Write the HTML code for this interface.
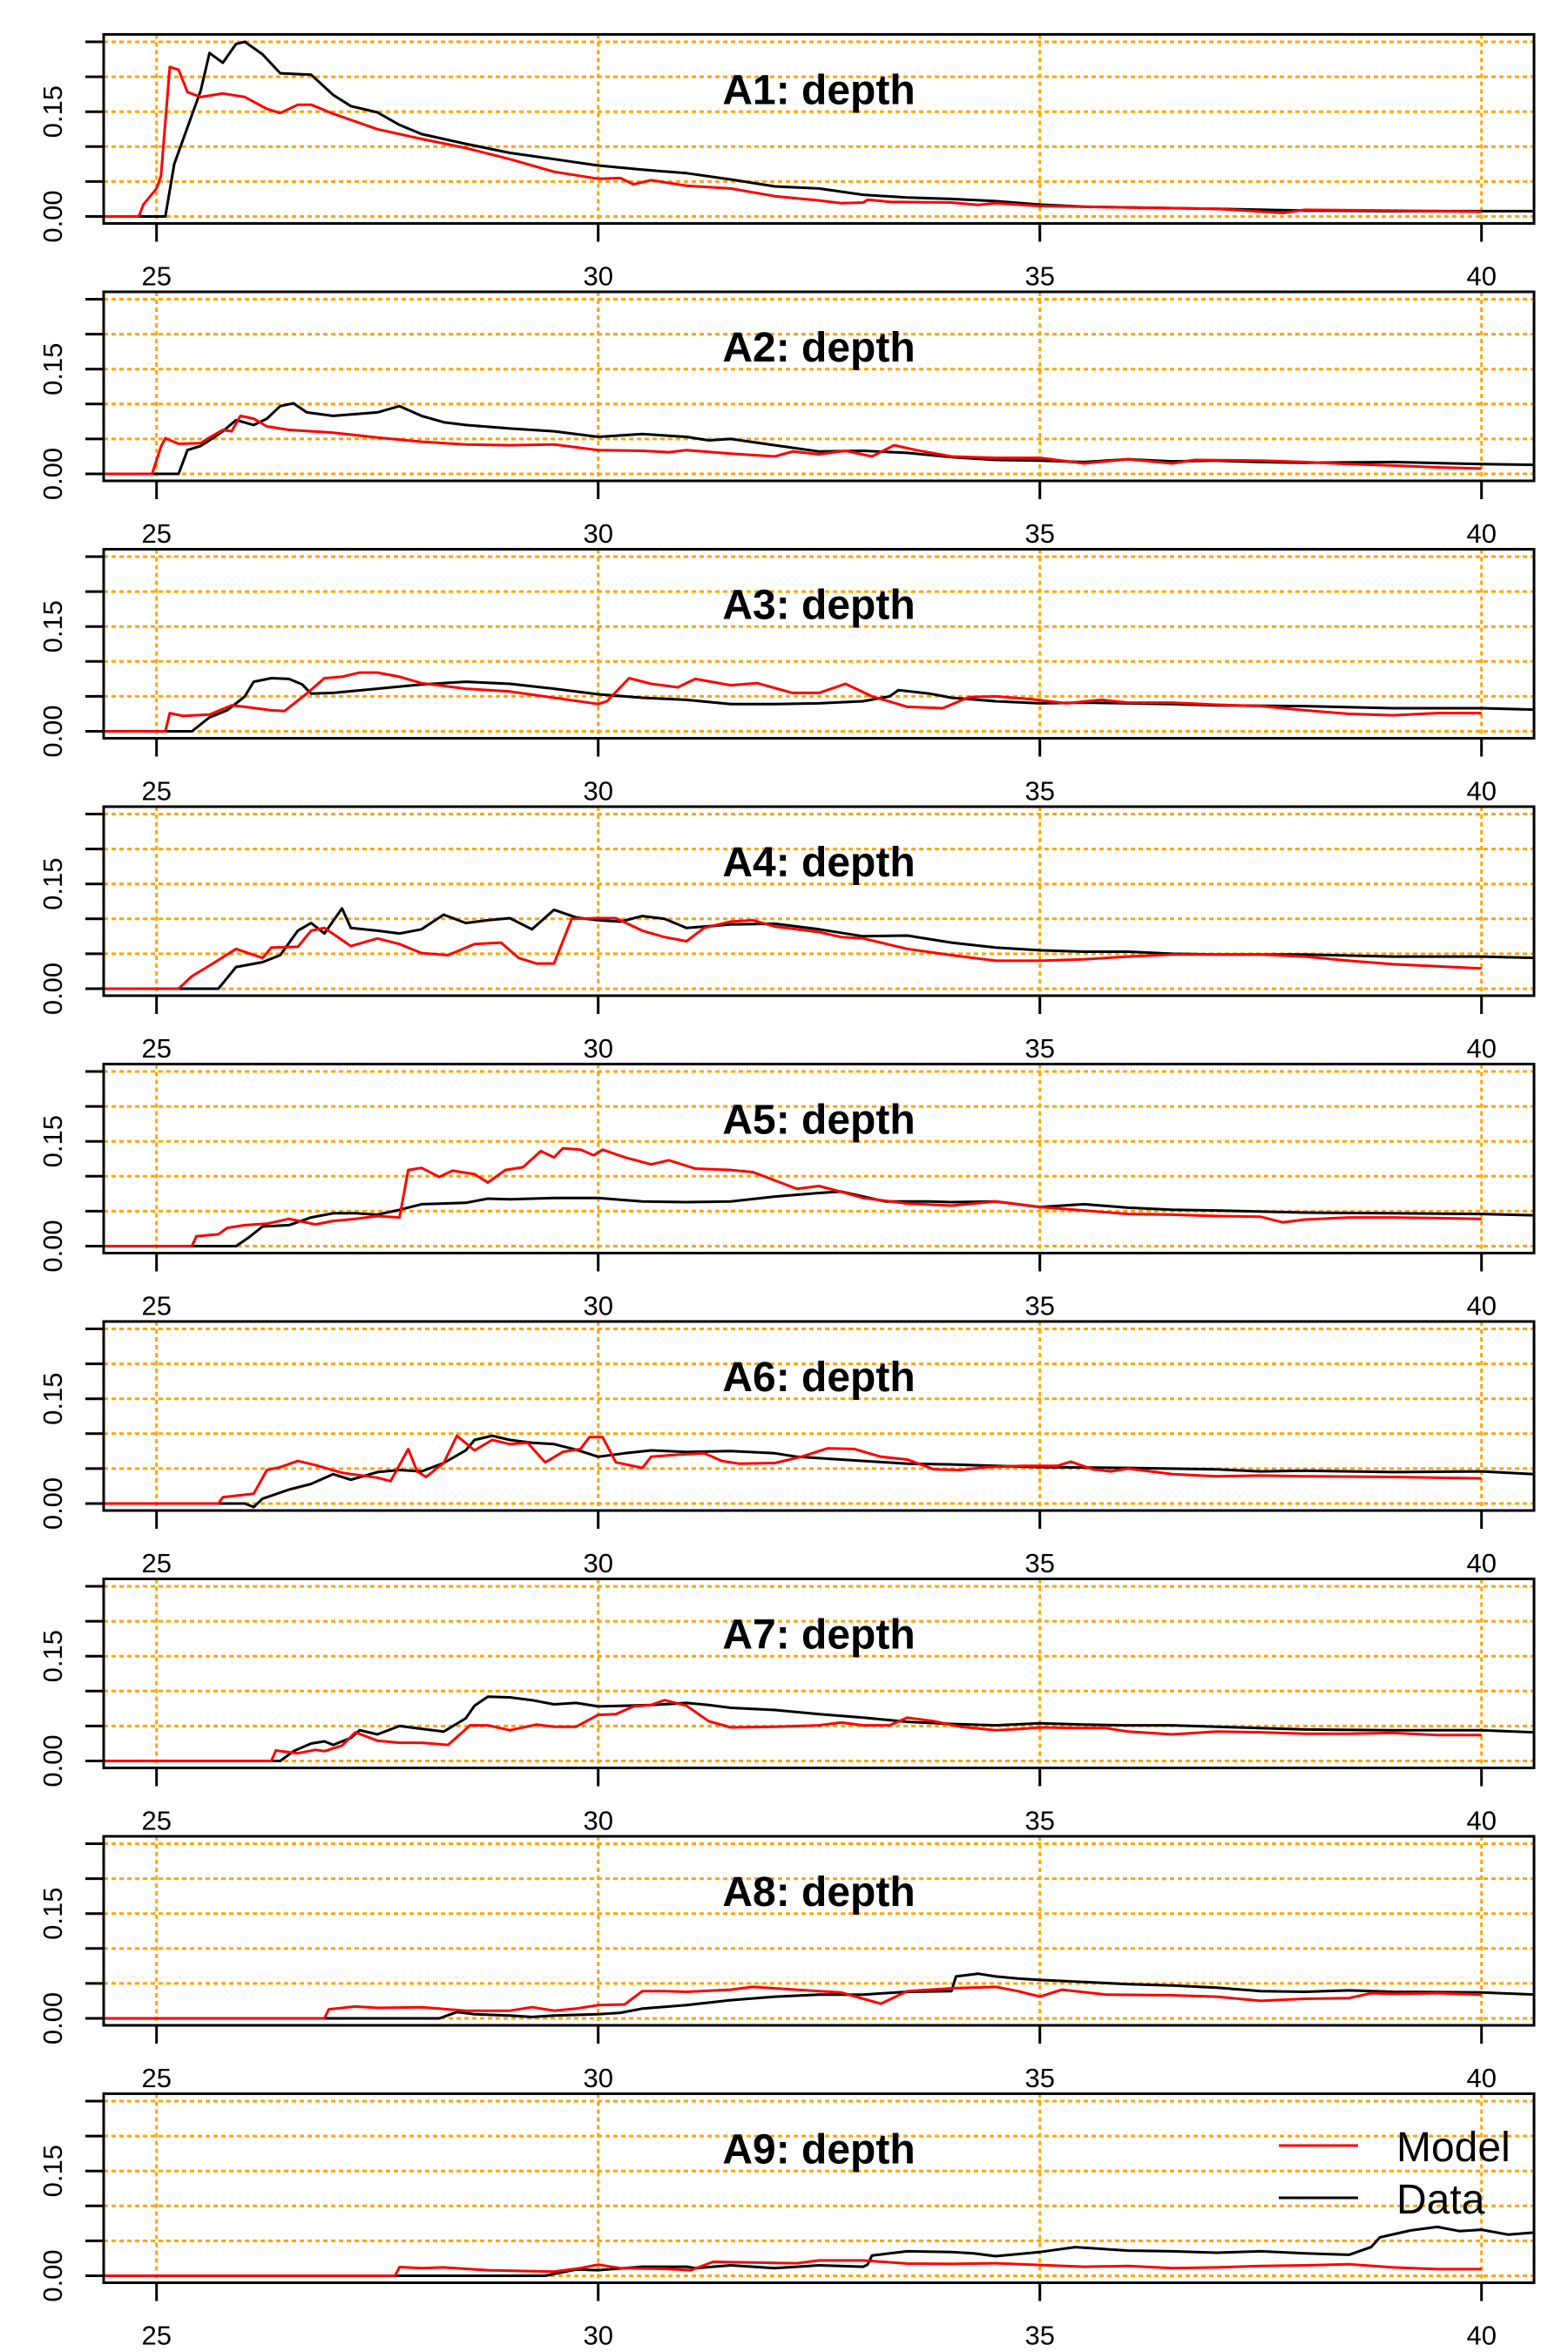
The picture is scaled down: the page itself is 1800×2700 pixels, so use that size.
<!DOCTYPE html>
<html><head><meta charset="utf-8">
<style>
html,body{margin:0;padding:0;background:#fff;}
svg{display:block;font-family:"Liberation Sans",Arial,sans-serif;}
</style></head>
<body>
<svg id="chart" width="1800" height="2700" viewBox="0 0 1800 2700" xmlns="http://www.w3.org/2000/svg"></svg>
<script>
// ---- data ----
const panelTitles = ["A1: depth","A2: depth","A3: depth","A4: depth","A5: depth","A6: depth","A7: depth","A8: depth","A9: depth"];
const xTicks = [25,30,35,40];
const yTicks = [0,0.05,0.10,0.15,0.20,0.25];
const yTickLabels = ["0.00","","","0.15","",""];
const legendLabels = ["Model","Data"];

const a1ModelX = [24.4,24.8,24.85,25.0,25.05,25.15,25.25,25.35,25.5,25.75,26,26.25,26.4,26.6,26.75,27,27.5,28,28.5,29,29.5,30,30.25,30.4,30.6,31,31.5,32,32.5,32.75,33,33.05,33.3,34,34.3,34.5,35,36,37,37.75,38,39,40];
const a1ModelY = [0,0,0.017,0.04,0.058,0.214,0.21,0.178,0.171,0.176,0.171,0.154,0.148,0.16,0.16,0.147,0.125,0.111,0.098,0.082,0.064,0.054,0.055,0.046,0.052,0.044,0.040,0.029,0.023,0.019,0.020,0.024,0.021,0.020,0.0165,0.019,0.015,0.013,0.011,0.005,0.0095,0.0085,0.0067];
const a1DataX = [24.4,25.1,25.2,25.5,25.6,25.75,25.9,26.0,26.2,26.4,26.75,27,27.2,27.5,27.75,28,28.5,29,29.5,30,30.5,31,31.5,32,32.5,33,33.5,34,34.5,35,35.5,36,37,38,39,40,40.6];
const a1DataY = [0,0,0.075,0.18,0.234,0.22,0.247,0.25,0.232,0.205,0.203,0.174,0.158,0.149,0.131,0.118,0.104,0.091,0.082,0.073,0.067,0.062,0.053,0.043,0.040,0.031,0.027,0.025,0.022,0.017,0.014,0.013,0.011,0.0085,0.0076,0.0076,0.0076];

const a2ModelX = [24.4,24.95,25.05,25.1,25.25,25.5,25.6,25.75,25.85,25.95,26.1,26.25,26.5,27,27.5,28,28.5,29,29.5,30,30.5,30.8,31,31.5,32,32.2,32.5,32.8,33.1,33.35,33.6,34,34.5,35,35.5,36,36.5,36.75,37.5,38,38.5,39,39.5,40];
const a2ModelY = [0,0,0.039,0.051,0.043,0.044,0.052,0.063,0.061,0.083,0.079,0.068,0.063,0.059,0.052,0.046,0.042,0.041,0.042,0.034,0.033,0.031,0.034,0.029,0.025,0.032,0.028,0.033,0.025,0.041,0.034,0.025,0.023,0.023,0.015,0.021,0.015,0.020,0.019,0.017,0.014,0.012,0.0094,0.0076];
const a2DataX = [24.4,25.25,25.35,25.5,25.6,25.75,25.9,26.1,26.25,26.4,26.55,26.7,27,27.5,27.75,28,28.25,28.5,29,29.5,30,30.5,31,31.25,31.5,32,32.5,33,33.5,34,34.5,35,35.5,36,36.5,37,37.5,38,39,40,40.6];
const a2DataY = [0,0,0.034,0.040,0.048,0.061,0.077,0.070,0.079,0.097,0.101,0.088,0.083,0.088,0.097,0.083,0.074,0.070,0.065,0.061,0.053,0.057,0.053,0.048,0.050,0.041,0.032,0.033,0.030,0.024,0.020,0.019,0.017,0.021,0.018,0.019,0.017,0.016,0.017,0.014,0.013];

const a3ModelX = [24.4,25.1,25.15,25.3,25.6,25.85,26.0,26.3,26.45,26.7,26.9,27.1,27.3,27.5,27.75,28,28.5,29,29.5,30,30.1,30.35,30.6,30.9,31.1,31.5,31.8,32.2,32.5,32.8,33.1,33.5,33.9,34.2,34.5,34.9,35.3,35.7,36,36.5,37,37.5,38,38.5,39,39.5,40];
const a3ModelY = [0,0,0.026,0.022,0.024,0.037,0.035,0.030,0.029,0.054,0.076,0.078,0.084,0.084,0.078,0.069,0.061,0.057,0.048,0.039,0.043,0.076,0.068,0.063,0.075,0.066,0.069,0.055,0.055,0.068,0.050,0.035,0.033,0.049,0.050,0.046,0.040,0.045,0.041,0.041,0.038,0.036,0.030,0.025,0.023,0.026,0.026];
const a3DataX = [24.4,25.4,25.6,25.8,26,26.1,26.3,26.5,26.65,26.75,27,27.5,28,28.5,29,29.5,30,30.5,31,31.5,32,32.5,33,33.3,33.4,33.75,34,34.5,35,35.5,36,36.5,37,38,39,40,40.6];
const a3DataY = [0,0,0.020,0.030,0.050,0.071,0.076,0.075,0.067,0.054,0.055,0.061,0.067,0.071,0.068,0.061,0.053,0.048,0.045,0.039,0.039,0.040,0.043,0.050,0.059,0.054,0.048,0.043,0.040,0.041,0.040,0.039,0.037,0.036,0.033,0.033,0.031];

const a4ModelX = [24.4,25.25,25.4,25.6,25.9,26.2,26.3,26.6,26.75,26.9,27.2,27.5,27.75,28,28.3,28.6,28.9,29.1,29.3,29.5,29.7,30,30.2,30.5,30.75,31,31.2,31.5,31.75,32,32.5,32.75,33,33.5,34,34.5,35,35.5,36,36.5,37,37.5,38,38.5,39,39.5,40];
const a4ModelY = [0,0,0.018,0.033,0.057,0.044,0.059,0.060,0.083,0.087,0.061,0.072,0.064,0.051,0.048,0.064,0.066,0.044,0.036,0.036,0.100,0.101,0.101,0.083,0.074,0.068,0.087,0.096,0.098,0.089,0.081,0.074,0.072,0.057,0.048,0.040,0.040,0.042,0.046,0.049,0.049,0.049,0.046,0.040,0.035,0.032,0.029];
const a4DataX = [24.4,25.7,25.9,26.2,26.4,26.6,26.75,26.9,27.1,27.2,27.5,27.75,28,28.25,28.5,28.75,29,29.25,29.5,29.75,30,30.25,30.5,30.75,31,31.5,32,32.5,33,33.5,34,34.5,35,35.5,36,36.5,37,38,39,40,40.6];
const a4DataY = [0,0,0.031,0.038,0.048,0.083,0.094,0.079,0.115,0.087,0.083,0.079,0.085,0.106,0.094,0.098,0.101,0.085,0.113,0.102,0.098,0.096,0.104,0.100,0.087,0.092,0.093,0.085,0.075,0.076,0.066,0.059,0.055,0.053,0.053,0.050,0.049,0.049,0.046,0.046,0.044];

const a5ModelX = [24.4,25.4,25.45,25.7,25.8,26.0,26.25,26.5,26.8,27.0,27.25,27.5,27.75,27.85,28.0,28.2,28.35,28.6,28.75,28.95,29.15,29.35,29.5,29.6,29.8,29.95,30.05,30.3,30.6,30.8,31.1,31.5,31.75,32,32.25,32.5,32.8,33,33.5,34,34.5,35,35.5,36,36.5,37,37.5,37.75,38,38.5,39,40];
const a5ModelY = [0,0,0.014,0.017,0.026,0.030,0.032,0.039,0.031,0.036,0.039,0.043,0.041,0.109,0.112,0.099,0.108,0.103,0.091,0.109,0.113,0.136,0.127,0.140,0.138,0.130,0.138,0.127,0.117,0.123,0.111,0.109,0.106,0.094,0.082,0.086,0.076,0.069,0.061,0.058,0.064,0.056,0.051,0.046,0.045,0.043,0.042,0.034,0.038,0.041,0.041,0.039];
const a5DataX = [24.4,25.9,26.05,26.2,26.5,26.75,27,27.25,27.5,27.75,28,28.5,28.75,29,29.5,30,30.5,31,31.5,32,32.5,32.75,33,33.25,33.75,34,34.5,35,35.5,36,36.5,37,38,39,40,40.6];
const a5DataY = [0,0,0.013,0.028,0.030,0.041,0.047,0.047,0.045,0.052,0.060,0.062,0.068,0.067,0.069,0.069,0.064,0.063,0.064,0.071,0.076,0.078,0.071,0.064,0.064,0.063,0.064,0.056,0.060,0.055,0.052,0.051,0.048,0.047,0.046,0.044];

const a6ModelX = [24.4,25.7,25.75,26.1,26.25,26.4,26.6,26.8,27.1,27.5,27.65,27.85,27.95,28.05,28.25,28.4,28.6,28.8,29.0,29.2,29.4,29.6,29.8,29.9,30.05,30.2,30.5,30.6,30.9,31.2,31.4,31.6,32.0,32.3,32.6,32.9,33.2,33.5,33.8,34.1,34.4,34.8,35.2,35.35,35.6,35.8,36,36.5,37,37.5,38,39,40];
const a6ModelY = [0,0,0.009,0.014,0.048,0.052,0.061,0.055,0.044,0.037,0.032,0.078,0.046,0.038,0.058,0.097,0.076,0.091,0.085,0.087,0.059,0.074,0.078,0.095,0.095,0.059,0.051,0.067,0.070,0.072,0.061,0.057,0.058,0.067,0.079,0.078,0.067,0.063,0.049,0.048,0.052,0.054,0.054,0.060,0.049,0.046,0.050,0.042,0.039,0.040,0.039,0.038,0.036];
const a6DataX = [24.4,26.0,26.1,26.2,26.5,26.75,27.0,27.2,27.5,27.75,28.0,28.25,28.5,28.6,28.8,29,29.25,29.5,29.75,30,30.3,30.6,31,31.5,32,32.25,32.5,33,33.5,34,34.5,35,36,37,37.5,38,39,40,40.6];
const a6DataY = [0,0,-0.005,0.007,0.020,0.028,0.042,0.034,0.045,0.048,0.046,0.058,0.076,0.091,0.097,0.091,0.087,0.085,0.077,0.067,0.072,0.076,0.074,0.075,0.072,0.067,0.065,0.061,0.057,0.056,0.054,0.052,0.051,0.049,0.046,0.047,0.045,0.046,0.042];

const a7ModelX = [24.4,26.3,26.35,26.6,26.8,26.9,27.1,27.25,27.5,27.75,28,28.3,28.55,28.75,29,29.3,29.5,29.75,30,30.2,30.4,30.6,30.75,31,31.25,31.5,32,32.5,32.75,33,33.3,33.5,33.8,34.1,34.5,34.8,35,35.5,35.75,36,36.5,37,37.5,38,38.5,39,39.5,40];
const a7ModelY = [0,0,0.015,0.011,0.016,0.014,0.022,0.041,0.029,0.026,0.026,0.023,0.051,0.051,0.044,0.052,0.049,0.049,0.066,0.067,0.078,0.080,0.087,0.079,0.057,0.048,0.049,0.051,0.055,0.051,0.051,0.062,0.057,0.049,0.044,0.046,0.048,0.047,0.047,0.042,0.038,0.042,0.041,0.039,0.039,0.040,0.037,0.037];
const a7DataX = [24.4,26.4,26.55,26.75,26.9,27.0,27.2,27.3,27.5,27.75,28.0,28.25,28.5,28.6,28.75,29.0,29.25,29.5,29.75,30,30.3,30.6,31,31.25,31.5,32,32.5,33,33.5,34,34.5,35,35.5,36,36.5,37,38,39,40,40.6];
const a7DataY = [0,0,0.014,0.025,0.028,0.023,0.033,0.044,0.038,0.050,0.046,0.042,0.061,0.079,0.092,0.091,0.087,0.081,0.083,0.078,0.079,0.080,0.083,0.080,0.076,0.073,0.067,0.062,0.056,0.053,0.051,0.054,0.052,0.051,0.051,0.049,0.045,0.044,0.044,0.041];

const a8ModelX = [24.4,26.9,26.95,27.25,27.5,28,28.5,29,29.25,29.5,29.75,30,30.3,30.5,30.75,31,31.5,31.75,32,32.5,32.75,33,33.2,33.5,34,34.5,34.75,35,35.25,35.75,36.5,37,37.5,38,38.5,38.75,39,39.5,40];
const a8ModelY = [0,0,0.013,0.017,0.015,0.016,0.011,0.011,0.016,0.011,0.014,0.019,0.020,0.039,0.039,0.038,0.041,0.045,0.043,0.039,0.037,0.028,0.021,0.039,0.043,0.045,0.039,0.031,0.041,0.034,0.033,0.031,0.025,0.028,0.029,0.036,0.035,0.036,0.034];
const a8DataX = [24.4,28.2,28.4,28.6,29,29.25,29.5,30,30.25,30.5,31,31.5,32,32.5,33,33.5,34.0,34.05,34.3,34.5,34.75,35,35.5,36,36.5,37,37.5,38,38.5,39,40,40.6];
const a8DataY = [0,0,0.009,0.006,0.004,0.002,0.004,0.006,0.008,0.014,0.019,0.026,0.031,0.034,0.034,0.038,0.039,0.060,0.064,0.060,0.057,0.055,0.052,0.049,0.047,0.044,0.039,0.038,0.040,0.038,0.037,0.034];

const a9ModelX = [24.4,27.7,27.75,28,28.25,28.75,29.5,29.8,30,30.25,30.75,31.05,31.3,31.75,32.25,32.5,33,33.5,34,34.5,35,35.5,36,36.5,37,37.5,38,38.5,39,39.5,40];
const a9ModelY = [0,0,0.0125,0.011,0.012,0.008,0.006,0.011,0.016,0.011,0.010,0.008,0.020,0.019,0.018,0.022,0.022,0.0175,0.017,0.018,0.0155,0.013,0.014,0.011,0.012,0.014,0.015,0.0165,0.012,0.0095,0.0095];
const a9DataX = [24.4,29.4,29.75,30,30.5,31,31.1,31.5,32,32.5,33,33.05,33.1,33.5,34,34.25,34.5,35,35.4,36,36.5,37,37.5,38,38.5,38.75,38.85,39.2,39.5,39.75,40,40.3,40.6];
const a9DataY = [0,0,0.009,0.008,0.013,0.013,0.011,0.015,0.011,0.015,0.013,0.016,0.029,0.035,0.034,0.032,0.028,0.034,0.041,0.036,0.035,0.033,0.035,0.032,0.030,0.041,0.055,0.065,0.070,0.064,0.066,0.059,0.062];

const modelXs = [a1ModelX,a2ModelX,a3ModelX,a4ModelX,a5ModelX,a6ModelX,a7ModelX,a8ModelX,a9ModelX];
const modelYs = [a1ModelY,a2ModelY,a3ModelY,a4ModelY,a5ModelY,a6ModelY,a7ModelY,a8ModelY,a9ModelY];
const dataXs = [a1DataX,a2DataX,a3DataX,a4DataX,a5DataX,a6DataX,a7DataX,a8DataX,a9DataX];
const dataYs = [a1DataY,a2DataY,a3DataY,a4DataY,a5DataY,a6DataY,a7DataY,a8DataY,a9DataY];

// ---- layout ----
const NS = "http://www.w3.org/2000/svg";
const svg = document.getElementById("chart");
const boxL = 119, boxR = 1761, boxH = 217, top0 = 39.5, step = 295.5, zeroOff = 209, pxPer05 = 40.1;
function xPx(x){ return 179.7 + (x - 25) * 101.4; }
function yPx(top, v){ return top + zeroOff - v / 0.05 * pxPer05; }
function mk(tag, attrs, parent){
  const e = document.createElementNS(NS, tag);
  for (const k in attrs) e.setAttribute(k, attrs[k]);
  (parent || svg).appendChild(e);
  return e;
}
const defs = mk("defs", {});
for (let i = 0; i < 9; i++) {
  const top = top0 + i * step;
  const cp = mk("clipPath", {id: "clip" + i}, defs);
  mk("rect", {x: boxL, y: top, width: boxR - boxL, height: boxH}, cp);
  const g = mk("g", {});
  
  
  // grid
  const grid = mk("g", {stroke: "#FFA500", "stroke-width": 3, "stroke-dasharray": "5 4", fill: "none"}, g);
  
  
  yTicks.forEach(v => { mk("line", {x1: boxL, x2: boxR, y1: yPx(top, v), y2: yPx(top, v)}, grid); });
  xTicks.forEach(v => { mk("line", {x1: xPx(v), x2: xPx(v), y1: top, y2: top + boxH}, grid); });
  // series
  const series = [[dataXs[i], dataYs[i], "#000", "data-line"], [modelXs[i], modelYs[i], "#FF0000", "model-line"]];
  series.forEach(s => {
    let d = "";
    s[0].forEach((x, j) => { d += (j ? "L" : "M") + xPx(x).toFixed(1) + "," + yPx(top, s[1][j]).toFixed(1); });
    const p = mk("path", {d: d, fill: "none", stroke: s[2], "stroke-width": 3, "stroke-linejoin": "round", "clip-path": "url(#clip" + i + ")"}, g);
    
    
  });
  // box
  const box = mk("rect", {x: boxL, y: top, width: boxR - boxL, height: boxH, fill: "none", stroke: "#000", "stroke-width": 3}, g);
  
  
  // y axis
  const ya = mk("g", {}, g);
  
  
  yTicks.forEach((v, j) => {
    mk("line", {x1: 98, x2: boxL, y1: yPx(top, v), y2: yPx(top, v), stroke: "#000", "stroke-width": 3}, ya);
    if (yTickLabels[j]) {
      const t = mk("text", {x: 0, y: 0, "font-size": 31, "text-anchor": "middle",
        transform: "translate(71," + yPx(top, v) + ") rotate(-90)"}, ya);
      t.textContent = yTickLabels[j];
      
      
    }
  });
  // x axis
  const xa = mk("g", {}, g);
  
  
  xTicks.forEach(v => {
    mk("line", {x1: xPx(v), x2: xPx(v), y1: top + boxH, y2: top + boxH + 21, stroke: "#000", "stroke-width": 3}, xa);
    const t = mk("text", {x: xPx(v), y: top + 288, "font-size": 31, "text-anchor": "middle"}, xa);
    t.textContent = String(v);
    
    
  });
  // title
  const tt = mk("text", {x: 940, y: top + 80, "font-size": 48, "font-weight": "bold", "text-anchor": "middle"}, g);
  tt.textContent = panelTitles[i];
  
  
}
// legend
const lg = mk("g", {});


const legColors = ["#FF0000", "#000"];
const legY = [2463, 2523];
legendLabels.forEach((lab, j) => {
  const ln = mk("line", {x1: 1468, x2: 1559, y1: legY[j], y2: legY[j], stroke: legColors[j], "stroke-width": 3}, lg);
  
  
  const t = mk("text", {x: 1603, y: legY[j] + 18, "font-size": 48}, lg);
  t.textContent = lab;
  
  
});
</script>
</body></html>
